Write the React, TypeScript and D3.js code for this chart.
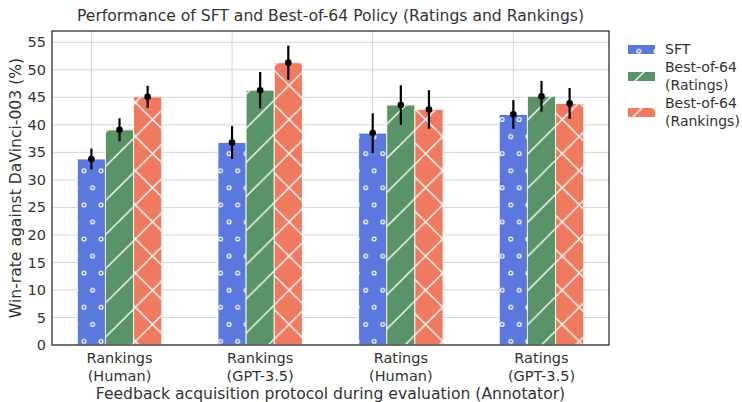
import React from "react";
import * as d3 from "d3";

const categories = ["Rankings\n(Human)", "Rankings\n(GPT-3.5)", "Ratings\n(Human)", "Ratings\n(GPT-3.5)"];
const seriesNames = ["SFT", "Best-of-64\n(Ratings)", "Best-of-64\n(Rankings)"];
const sftValues = [33.8, 36.8, 38.5, 41.9];
const ratingsValues = [39.1, 46.3, 43.6, 45.2];
const rankingsValues = [45.1, 51.3, 42.8, 43.9];
const sftErr = [1.9, 3.0, 3.6, 2.6];
const ratingsErr = [2.1, 3.3, 3.6, 2.8];
const rankingsErr = [2.0, 3.1, 3.5, 2.8];
const yTicks = [0, 5, 10, 15, 20, 25, 30, 35, 40, 45, 50, 55];

const colors = ["#5a78de", "#5b9368", "#ef7a60"];
const patterns = ["hatch-o", "hatch-slash", "hatch-x"];
const FONT = "DejaVu Sans, sans-serif";

const W = 742;
const H = 402;
const plot = { left: 52, right: 609, top: 31, bottom: 345 };
const P = 17.07;
const T = 34.14;
const HW = 1.3;

export default function App() {
  const x = d3.scaleLinear().domain([-0.28, 3.68]).range([plot.left, plot.right]);
  const y = d3.scaleLinear().domain([0, 55]).range([plot.bottom, 42.3]);
  const barW = 0.2;
  const series = [
    { values: sftValues, err: sftErr },
    { values: ratingsValues, err: ratingsErr },
    { values: rankingsValues, err: rankingsErr },
  ];

  const legendItems = seriesNames.map((name, j) => ({
    lines: name.split("\n"),
    y: [49, 67, 103][j],
  }));

  return (
    <svg width={W} height={H} style={{ position: "absolute", left: 0, top: 0 }} fontFamily={FONT}>
      <defs>
        <pattern id="hatch-o" patternUnits="userSpaceOnUse" x={84} y={170.7} width={P} height={2 * P}>
          {[
            [0, 0], [P, 0], [0, 2 * P], [P, 2 * P], [P / 2, P],
          ].map(([cx, cy], i) => (
            <circle key={i} cx={cx} cy={cy} r={1.9} fill="none" stroke="#fff" strokeWidth={1.2} />
          ))}
        </pattern>
        <pattern id="hatch-slash" patternUnits="userSpaceOnUse" x={0} y={272 % T} width={T} height={T}>
          <line x1={-2} y1={T + 2} x2={T + 2} y2={-2} stroke="#fff" strokeWidth={HW} />
          <line x1={-2} y1={2} x2={2} y2={-2} stroke="#fff" strokeWidth={HW} />
          <line x1={T - 2} y1={T + 2} x2={T + 2} y2={T - 2} stroke="#fff" strokeWidth={HW} />
        </pattern>
        <pattern id="hatch-x" patternUnits="userSpaceOnUse" x={101.3} y={170.7} width={T} height={T}>
          <line x1={-2} y1={T + 2} x2={T + 2} y2={-2} stroke="#fff" strokeWidth={HW} />
          <line x1={-2} y1={2} x2={2} y2={-2} stroke="#fff" strokeWidth={HW} />
          <line x1={T - 2} y1={T + 2} x2={T + 2} y2={T - 2} stroke="#fff" strokeWidth={HW} />
          <line x1={-2} y1={-2} x2={T + 2} y2={T + 2} stroke="#fff" strokeWidth={HW} />
        </pattern>
      </defs>

      <rect x={0} y={0} width={W} height={H} fill="#fff" />

      {/* grid */}
      {yTicks.map((t) => (
        <line key={t} x1={plot.left} x2={plot.right} y1={y(t)} y2={y(t)} stroke="#d6d6d6" strokeWidth={1} />
      ))}
      {categories.map((_, i) => (
        <line key={i} x1={x(i)} x2={x(i)} y1={plot.top} y2={plot.bottom} stroke="#d6d6d6" strokeWidth={1} />
      ))}

      {/* bars */}
      {series.map((s, j) =>
        s.values.map((v, i) => {
          const x0 = x(i + j * barW - barW / 2);
          const x1 = x(i + j * barW + barW / 2);
          return (
            <g key={`${j}-${i}`}>
              <rect x={x0} y={y(v)} width={x1 - x0} height={y(0) - y(v)} fill={colors[j]} />
              <rect x={x0} y={y(v)} width={x1 - x0} height={y(0) - y(v)} fill={`url(#${patterns[j]})`} stroke="#fff" strokeOpacity={0.85} strokeWidth={1} />
            </g>
          );
        })
      )}

      {/* error bars */}
      {series.map((s, j) =>
        s.values.map((v, i) => {
          const cx = x(i + j * barW);
          return (
            <g key={`e${j}-${i}`}>
              <line x1={cx} x2={cx} y1={y(v - s.err[i])} y2={y(v + s.err[i])} stroke="#000" strokeWidth={2.2} />
              <circle cx={cx} cy={y(v)} r={3.3} fill="#000" />
            </g>
          );
        })
      )}

      {/* frame */}
      <rect x={plot.left} y={plot.top} width={plot.right - plot.left} height={plot.bottom - plot.top} fill="none" stroke="#333" strokeWidth={1.3} />

      {/* y ticks */}
      {yTicks.map((t) => (
        <text key={t} x={plot.left - 6} y={y(t)} dy="0.35em" textAnchor="end" fontSize={14.5} fill="#333">
          {t}
        </text>
      ))}

      {/* x ticks */}
      {categories.map((c, i) =>
        c.split("\n").map((line, k) => (
          <text key={`${i}-${k}`} x={x(i + barW)} y={363 + k * 17.5} textAnchor="middle" fontSize={14.5} fill="#333">
            {line}
          </text>
        ))
      )}

      <text x={(plot.left + plot.right) / 2} y={21} textAnchor="middle" fontSize={15.6} fill="#333">
        Performance of SFT and Best-of-64 Policy (Ratings and Rankings)
      </text>
      <text x={(plot.left + plot.right) / 2} y={399} textAnchor="middle" fontSize={15.6} fill="#333">
        Feedback acquisition protocol during evaluation (Annotator)
      </text>
      <text transform={`translate(21,${(plot.top + plot.bottom) / 2}) rotate(-90)`} textAnchor="middle" fontSize={15.6} fill="#333">
        Win-rate against DaVinci-003 (%)
      </text>

      {/* legend */}
      {legendItems.map((item, j) => {
        const patchY = item.lines.length === 1 ? item.y - 4 : item.y + 5;
        return (
          <g key={j}>
            <rect x={628} y={patchY} width={27} height={9} fill={colors[j]} />
            <rect x={628} y={patchY} width={27} height={9} fill={`url(#${patterns[j]})`} />
            {item.lines.map((line, k) => (
              <text key={k} x={665} y={item.y + k * 18} dy="0.35em" fontSize={14} fill="#333">
                {line}
              </text>
            ))}
          </g>
        );
      })}
    </svg>
  );
}
